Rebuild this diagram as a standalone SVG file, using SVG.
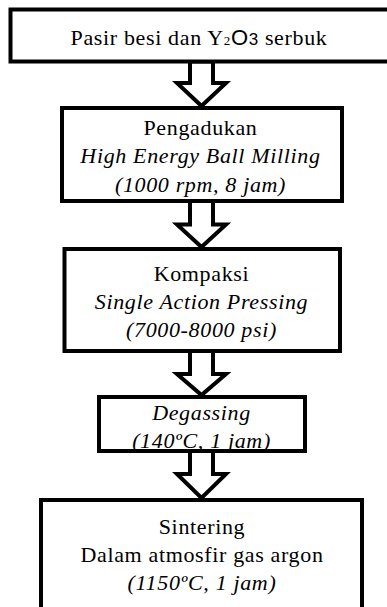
<svg xmlns="http://www.w3.org/2000/svg" width="387" height="607" viewBox="0 0 387 607">
<style>
.box{fill:#fff;stroke:#000;stroke-width:4}
.arr{fill:#fff;stroke:#000;stroke-width:4;stroke-linejoin:miter}
.t{font-size:22px;letter-spacing:0.65px;fill:#000;text-anchor:middle}
.i{font-style:italic}
</style>
<g id="connectors">
<polygon class="arr" points="190,61.5 213,61.5 213,83 226,83 201.5,106 177,83 190,83"/>
<polygon class="arr" points="190,201 213,201 213,224.5 226,224.5 201.5,247 177,224.5 190,224.5"/>
<polygon class="arr" points="190,351 213,351 213,374 226,374 201.5,395 177,374 190,374"/>
<polygon class="arr" points="190,451 213,451 213,474 226,474 201.5,498 177,474 190,474"/>
</g>
<g id="node1" font-family="Liberation Serif, Times New Roman, serif">
<rect class="box" x="10.5" y="9.5" width="390" height="52"/>
<text class="t" x="199" y="45">Pasir besi dan Y<tspan font-size="13">2</tspan><tspan font-family="Liberation Sans, Arial, sans-serif">O</tspan><tspan font-family="Liberation Sans, Arial, sans-serif" font-size="17">3</tspan> serbuk</text>
</g>
<g id="node2" font-family="Liberation Serif, Times New Roman, serif">
<rect class="box" x="62" y="108" width="280" height="93"/>
<text class="t" x="200.5" y="135">Pengadukan</text>
<text class="t i" x="200.5" y="163">High Energy Ball Milling</text>
<text class="t i" x="200.5" y="192">(1000 rpm, 8 jam)</text>
</g>
<g id="node3" font-family="Liberation Serif, Times New Roman, serif">
<rect class="box" x="64.5" y="249" width="275.5" height="102"/>
<text class="t" x="201.5" y="281">Kompaksi</text>
<text class="t i" x="201.5" y="309">Single Action Pressing</text>
<text class="t i" x="201.5" y="337">(7000-8000 psi)</text>
</g>
<g id="node4" font-family="Liberation Serif, Times New Roman, serif">
<rect class="box" x="99" y="397" width="206" height="54"/>
<text class="t i" x="201.5" y="420">Degassing</text>
<text class="t i" x="201.5" y="448">(140ºC, 1 jam)</text>
</g>
<g id="node5" font-family="Liberation Serif, Times New Roman, serif">
<rect class="box" x="41" y="500" width="321" height="120"/>
<text class="t" x="202" y="534">Sintering</text>
<text class="t" x="202" y="562">Dalam atmosfir gas argon</text>
<text class="t i" x="202" y="590">(1150ºC, 1 jam)</text>
</g>
</svg>
